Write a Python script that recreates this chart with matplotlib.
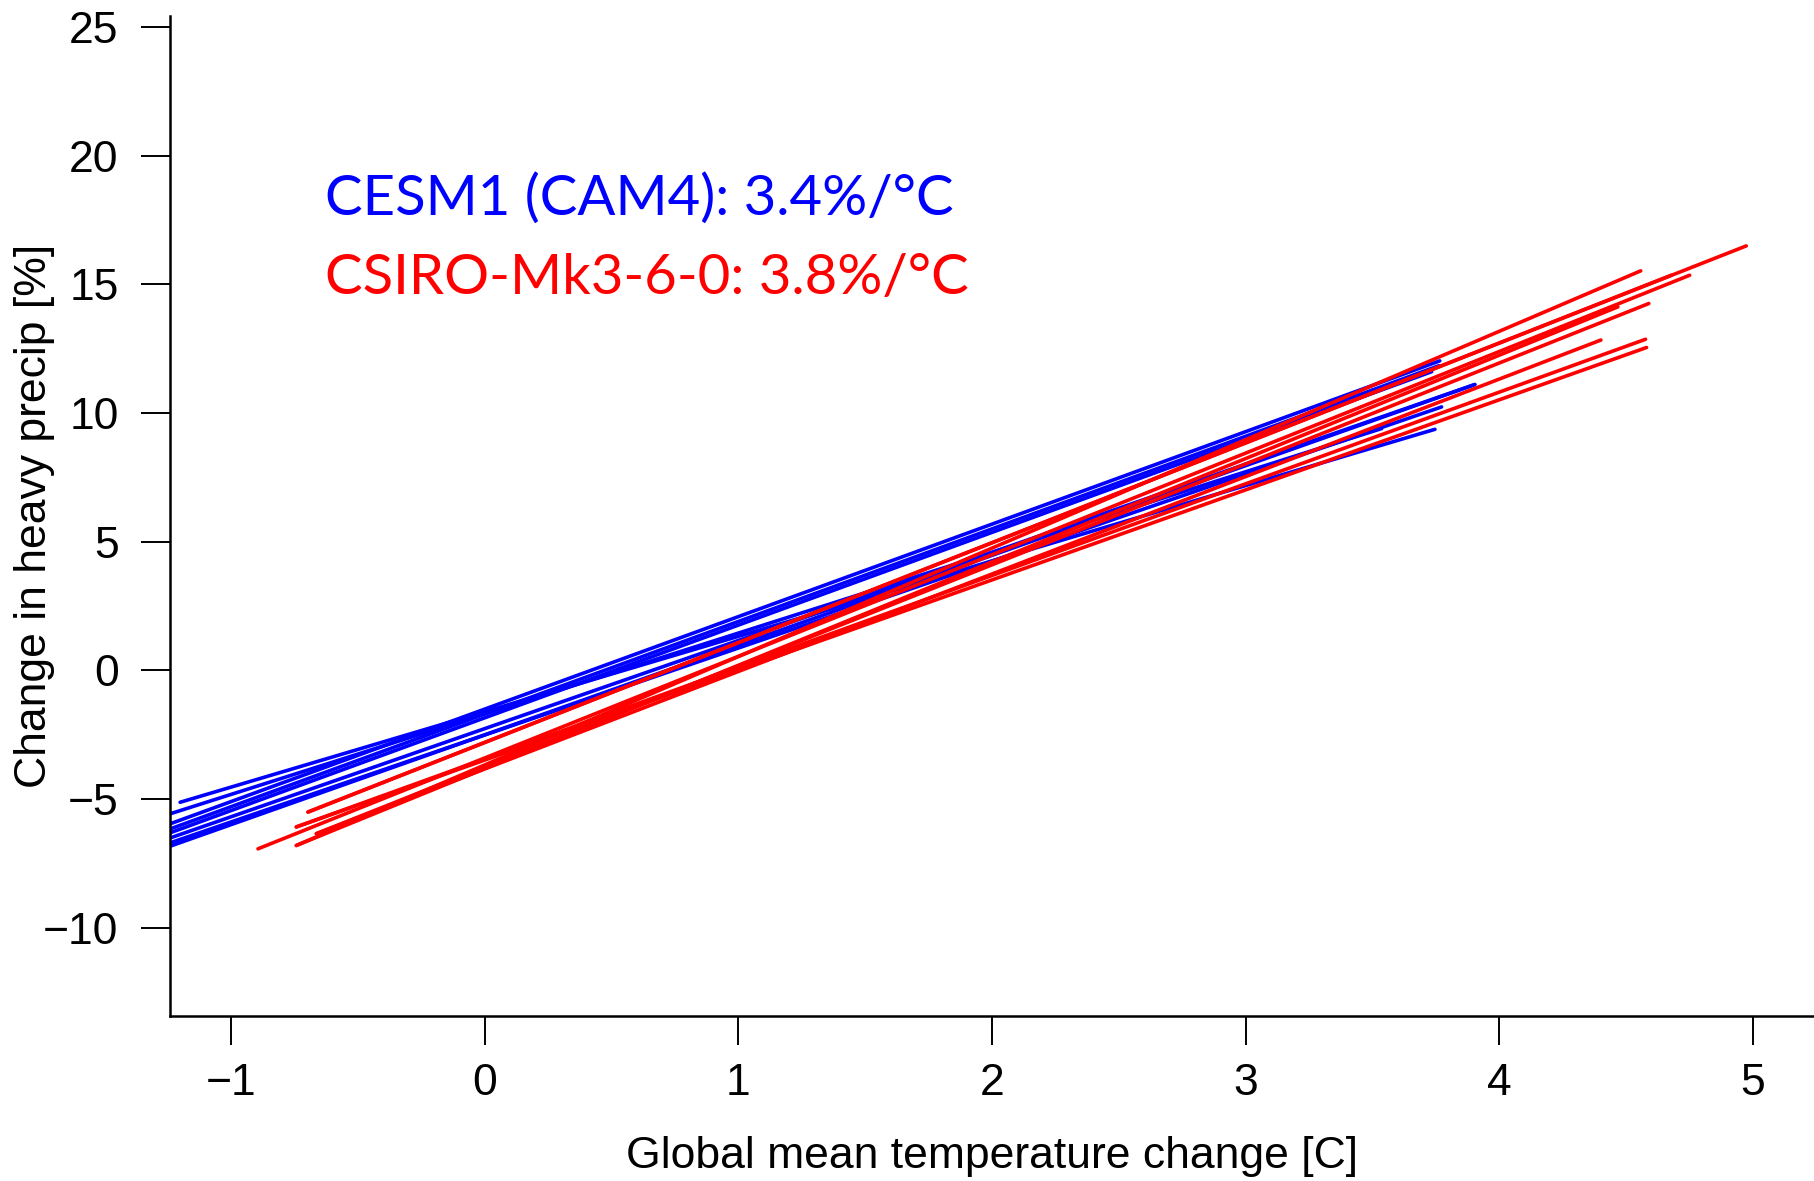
import matplotlib
matplotlib.use('Agg')
import matplotlib.pyplot as plt

# CESM1 (CAM4) ensemble fits: start/end of each segment
cesm_x0 = [-1.20, -1.24, -1.24, -1.24, -1.24, -1.24, -1.24, -1.24]
cesm_y0 = [-5.13, -5.58, -5.97, -6.17, -6.32, -6.52, -6.71, -6.84]
cesm_x1 = [3.746, 3.536, 3.765, 3.761, 3.733, 3.903, 3.772, 3.903]
cesm_y1 = [9.37, 9.40, 12.03, 11.84, 11.61, 11.11, 10.24, 11.11]

# CSIRO-Mk3-6-0 ensemble fits
csiro_x0 = [-0.696, -0.696, -0.742, -0.742, -0.663, -0.663, -0.742, -0.742, -0.893]
csiro_y0 = [-5.51, -5.51, -6.09, -6.09, -6.35, -6.35, -6.81, -6.81, -6.94]
csiro_x1 = [4.973, 4.678, 4.580, 4.576, 4.400, 4.589, 4.557, 4.467, 4.750]
csiro_y1 = [16.50, 15.36, 12.55, 12.87, 12.84, 14.26, 15.53, 14.13, 15.36]

xticks = [-1, 0, 1, 2, 3, 4, 5]
yticks = [-10, -5, 0, 5, 10, 15, 20, 25]

plt.rcParams['font.family'] = ['Liberation Sans', 'DejaVu Sans']

fig = plt.figure(figsize=(18.14, 11.81), dpi=100)
ax = fig.add_axes([0.0937, 0.1397, 0.9063, 0.8468])

for i in range(len(cesm_x0)):
    ax.plot([cesm_x0[i], cesm_x1[i]], [cesm_y0[i], cesm_y1[i]],
            color='#0000ff', lw=2.6, solid_capstyle='round')
for i in range(len(csiro_x0)):
    ax.plot([csiro_x0[i], csiro_x1[i]], [csiro_y0[i], csiro_y1[i]],
            color='#ff0000', lw=2.6, solid_capstyle='round')

ax.set_xlim(-1.24, 5.24)
ax.set_ylim(-13.44, 25.44)
ax.set_xticks(xticks)
ax.set_yticks(yticks)

ax.spines['top'].set_visible(False)
ax.spines['right'].set_visible(False)
for s in ['left', 'bottom']:
    ax.spines[s].set_linewidth(1.8)

ax.tick_params(axis='both', direction='out', length=21, width=1.4, labelsize=32)
ax.tick_params(axis='x', pad=13)
ax.tick_params(axis='y', pad=16)

ax.set_xlabel('Global mean temperature change [C]', fontsize=32)
ax.set_ylabel('Change in heavy precip [%]', fontsize=32)
ax.xaxis.set_label_coords(0.5, -0.12)
ax.yaxis.set_label_coords(-0.07, 0.5)

ax.text(-0.628, 17.7, 'CESM1 (CAM4): 3.4%/°C', color='#0000ff',
        fontsize=40.5, family=['Lato', 'DejaVu Sans'], va='baseline', ha='left')
ax.text(-0.628, 14.62, 'CSIRO-Mk3-6-0: 3.8%/°C', color='#ff0000',
        fontsize=40.5, family=['Lato', 'DejaVu Sans'], va='baseline', ha='left')

fig.savefig('out.png', dpi=100)
